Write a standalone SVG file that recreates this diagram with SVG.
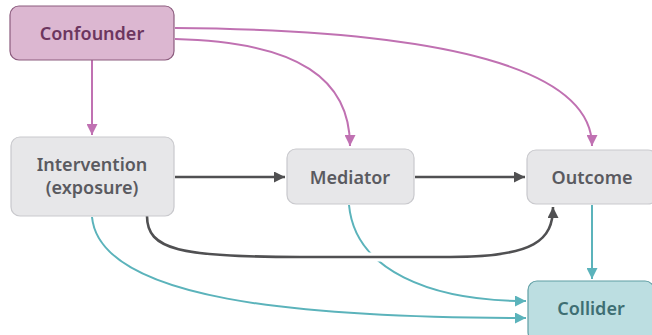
<svg xmlns="http://www.w3.org/2000/svg" width="652" height="335" viewBox="0 0 652 335">
<defs>
<style>
.lbl{font-family:"Noto Sans","Open Sans","DejaVu Sans",sans-serif;font-weight:600;font-size:18px;text-anchor:middle}
.grey rect{fill:#e7e7e9;stroke:#c9c9cd;stroke-width:1.2}
.grey text{fill:#5a5a60}
.pur{fill:none;stroke:#c071b2;stroke-width:2}
.dk{fill:none;stroke:#505052;stroke-width:2.6}
.tl{fill:none;stroke:#5bb3bb;stroke-width:2}
</style>
<marker id="ap" viewBox="0 0 10 10" refX="10" refY="5" markerWidth="11" markerHeight="11" markerUnits="userSpaceOnUse" orient="auto"><path d="M0,0 L10,5 L0,10 z" fill="#c071b2"/></marker>
<marker id="ad" viewBox="0 0 10 10" refX="10" refY="5" markerWidth="11" markerHeight="11" markerUnits="userSpaceOnUse" orient="auto"><path d="M0,0 L10,5 L0,10 z" fill="#505052"/></marker>
<marker id="at" viewBox="0 0 10 10" refX="10" refY="5" markerWidth="11" markerHeight="11" markerUnits="userSpaceOnUse" orient="auto"><path d="M0,0 L10,5 L0,10 z" fill="#5bb3bb"/></marker>
</defs>
<rect width="652" height="335" fill="#ffffff"/>
<g id="connectors">
<path class="pur" d="M92,60 L92,135" marker-end="url(#ap)"/>
<path class="pur" d="M175,39 C300,42 350,80 350,146" marker-end="url(#ap)"/>
<path class="pur" d="M175,28 C450,30 592,70 592,146" marker-end="url(#ap)"/>
<path class="tl" d="M92,217 C100,300 300,318 526,318" marker-end="url(#at)"/>
<path class="tl" d="M349,205 C355,270 430,301 526,301" marker-end="url(#at)"/>
<path class="tl" d="M592,205 L592,279" stroke-width="3" marker-end="url(#at)"/>
<path d="M250,257 L450,257" fill="none" stroke="#ffffff" stroke-width="9"/>
<path class="dk" d="M147,216 C147,250 180,257 300,257 L450,257 C535,257 553,240 553,207" marker-end="url(#ad)"/>
<path class="dk" d="M175,177 L285,177" marker-end="url(#ad)"/>
<path class="dk" d="M415,177 L525,177" marker-end="url(#ad)"/>
</g>
<g id="confounder">
<rect x="10" y="6" width="164" height="54" rx="9" fill="#dcb7d1" stroke="#8c5c7e" stroke-width="1.2"/>
<text class="lbl" x="92" y="40" fill="#6c365f">Confounder</text>
</g>
<g id="intervention" class="grey">
<rect x="11" y="137" width="163" height="79" rx="9"/>
<text class="lbl" x="92" y="171">Intervention</text>
<text class="lbl" x="92" y="194">(exposure)</text>
</g>
<g id="mediator" class="grey">
<rect x="287" y="149" width="127" height="55" rx="9"/>
<text class="lbl" x="350" y="184">Mediator</text>
</g>
<g id="outcome" class="grey">
<rect x="527" y="150" width="130" height="54" rx="9"/>
<text class="lbl" x="592" y="184">Outcome</text>
</g>
<g id="collider">
<rect x="528" y="281" width="126" height="60" rx="9" fill="#bcdee1" stroke="#5f9ea4" stroke-width="1.2"/>
<text class="lbl" x="591" y="315" fill="#3e6e73">Collider</text>
</g>
</svg>
